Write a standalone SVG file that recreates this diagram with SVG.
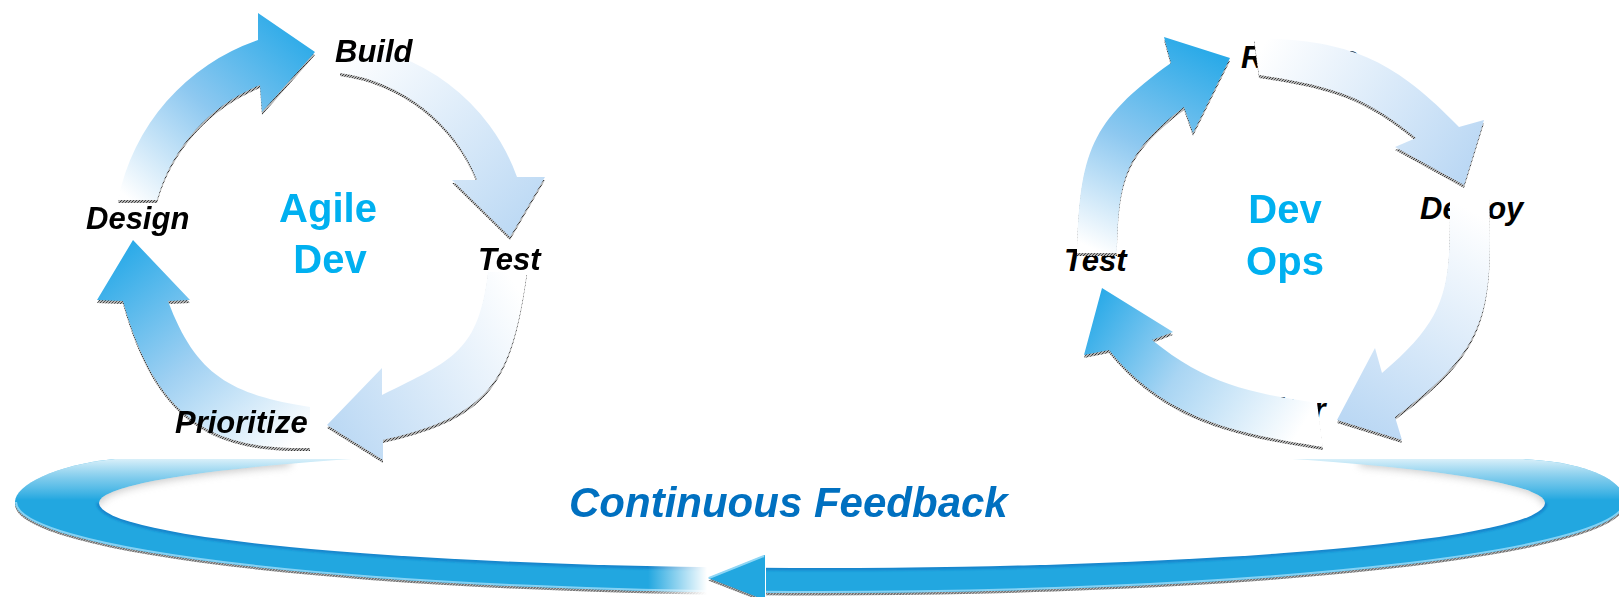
<svg xmlns="http://www.w3.org/2000/svg" xmlns:xlink="http://www.w3.org/1999/xlink" width="1619" height="597" viewBox="0 0 1619 597">
<defs>
<style>
.lbl{font-family:"Liberation Sans",Arial,sans-serif;font-weight:700;font-style:italic;font-size:31px;fill:#000}
.hub{font-family:"Liberation Sans",Arial,sans-serif;font-weight:700;font-size:40px;fill:#00B0F0;text-anchor:middle}
.fb{font-family:"Liberation Sans",Arial,sans-serif;font-weight:700;font-style:italic;font-size:42px;fill:#0070C0}
.shd{fill:url(#speckle)}
</style>
<pattern id="speckle" width="3" height="3" patternUnits="userSpaceOnUse">
<rect width="3" height="3" fill="#b4b4b4"/><rect x="0" y="0" width="1" height="1" fill="#333"/><rect x="2" y="1" width="1" height="1" fill="#555"/><rect x="1" y="2" width="1" height="1" fill="#444"/>
</pattern>
<linearGradient id="gBlueA1" gradientUnits="userSpaceOnUse" x1="290" y1="20" x2="130" y2="200"><stop offset="0" stop-color="#2AAAE8"/><stop offset="0.5" stop-color="#8DC8F0"/><stop offset="1" stop-color="#FFFFFF"/></linearGradient>
<linearGradient id="gPaleA2" gradientUnits="userSpaceOnUse" x1="345" y1="50" x2="520" y2="230"><stop offset="0" stop-color="#FFFFFF"/><stop offset="1" stop-color="#BCD9F4"/></linearGradient>
<linearGradient id="gPaleA3" gradientUnits="userSpaceOnUse" x1="525" y1="300" x2="330" y2="420"><stop offset="0" stop-color="#FFFFFF"/><stop offset="1" stop-color="#BCD9F4"/></linearGradient>
<linearGradient id="gBlueA4" gradientUnits="userSpaceOnUse" x1="133" y1="240" x2="300" y2="440"><stop offset="0" stop-color="#2AAAE8"/><stop offset="0.5" stop-color="#9FD0F2"/><stop offset="1" stop-color="#FFFFFF"/></linearGradient>
<linearGradient id="gBlueB1" gradientUnits="userSpaceOnUse" x1="1195" y1="45" x2="1095" y2="250"><stop offset="0" stop-color="#2AAAE8"/><stop offset="0.5" stop-color="#8DC8F0"/><stop offset="1" stop-color="#FFFFFF"/></linearGradient>
<linearGradient id="gPaleB2" gradientUnits="userSpaceOnUse" x1="1260" y1="50" x2="1460" y2="180"><stop offset="0" stop-color="#FFFFFF"/><stop offset="1" stop-color="#BBD8F4"/></linearGradient>
<linearGradient id="gPaleB3" gradientUnits="userSpaceOnUse" x1="1470" y1="210" x2="1350" y2="420"><stop offset="0" stop-color="#FFFFFF"/><stop offset="1" stop-color="#BBD8F4"/></linearGradient>
<linearGradient id="gBlueB4" gradientUnits="userSpaceOnUse" x1="1095" y1="300" x2="1300" y2="430"><stop offset="0" stop-color="#2AAAE8"/><stop offset="0.45" stop-color="#A9D5F3"/><stop offset="1" stop-color="#FFFFFF"/></linearGradient>
<linearGradient id="gRingFade" gradientUnits="userSpaceOnUse" x1="0" y1="458" x2="0" y2="500"><stop offset="0" stop-color="#FFFFFF" stop-opacity="0.85"/><stop offset="0.5" stop-color="#E8F4FA" stop-opacity="0.45"/><stop offset="1" stop-color="#FFFFFF" stop-opacity="0"/></linearGradient>
<linearGradient id="gGap" gradientUnits="userSpaceOnUse" x1="648" y1="0" x2="707" y2="0"><stop offset="0" stop-color="#FFFFFF" stop-opacity="0"/><stop offset="1" stop-color="#FFFFFF" stop-opacity="1"/></linearGradient>
<filter id="blur5" x="-20%" y="-100%" width="140%" height="300%"><feGaussianBlur stdDeviation="5"/></filter>
<filter id="blur1" x="-5%" y="-50%" width="110%" height="200%"><feGaussianBlur stdDeviation="0.8"/></filter>
<path id="ringOuterShape" d="M15,502 C15,485 55,465 115,459 L1520,459 C1580,461 1625,478 1625,502 A805,91 0 0 1 15,502 Z"/>
<path id="ringInnerShape" d="M99,503 A723,58 0 0 1 1545,503 A723,65 0 0 1 99,503 Z"/>
<clipPath id="clipOuter"><use xlink:href="#ringOuterShape"/></clipPath>
<clipPath id="clipInner"><use xlink:href="#ringInnerShape"/></clipPath>
<path id="pA1" d="M118,200 A213,213 0 0 1 258,40 L258,13 L315,52 L262,112 L260,85 A174,174 0 0 0 157,200 Z"/>
<path id="pA2" d="M340,44 A201,201 0 0 1 517,177 L545,177 L510,237 L452,180 L477,180 A172,172 0 0 0 340,73 Z"/>
<path id="pA3" d="M527,272 C511.6,380.9 490.3,415.6 383,440 L383,460 L327,425 L382,368 L382,395 C453.8,359.6 478.3,351.4 488,272 Z"/>
<path id="pA4" d="M310,448 C215,450 156.6,422 123,301 L97,300 L133,240 L190,300 L168,301 C196.1,375.9 231,394.4 310,407 Z"/>
<path id="pB1" d="M1077,253 C1080,153 1089.6,121.1 1171,63 L1164,37 L1230,58 L1193,133 L1184,107 C1124.5,152.5 1118.5,178 1117,253 Z"/>
<path id="pB2" d="M1254,38 C1349,39.9 1393,58.6 1459,127 L1484,120 L1464,185 L1395,147 L1416,138 C1362,93.5 1328.2,85.8 1259,75 Z"/>
<path id="pB3" d="M1489,196 C1493,311 1488,349.5 1395,417 L1402,440 L1337,420 L1375,348 L1382,373 C1450.7,314.9 1450,286 1450,196 Z"/>
<path id="pB4" d="M1323,447 C1234,433 1166,419.6 1109,350 L1084,355 L1102,288 L1173,332 L1152,340 C1206.5,383.9 1247.8,392.6 1317,403 Z"/>
</defs>
<rect width="1619" height="597" fill="#FFFFFF"/>

<!-- DevOps labels (partly hidden behind the arrows, as in the picture) -->
<g id="node-release"><text class="lbl" x="1241" y="68">Release</text></g>
<g id="node-deploy"><text class="lbl" x="1420" y="219">Deploy</text></g>
<g id="node-monitor"><text class="lbl" x="1212" y="420">Monitor</text></g>
<g id="node-test-devops"><text class="lbl" x="1064" y="271">Test</text></g>

<g id="connectors">
  <g id="feedback-arrow">
    <use xlink:href="#ringOuterShape" transform="translate(0,2.5)" class="shd"/>
    <use xlink:href="#ringOuterShape" fill="#22A7E0"/>
    <path d="M1625,502 A805,91 0 0 1 15,502" fill="none" stroke="#86D2F4" stroke-width="4" clip-path="url(#clipOuter)"/>
    <path d="M1545,503 A723,65 0 0 1 99,503" fill="none" stroke="#1685CC" stroke-width="5" filter="url(#blur1)"/>
    <rect x="0" y="455" width="1619" height="50" fill="url(#gRingFade)" clip-path="url(#clipOuter)"/>
    <use xlink:href="#ringInnerShape" fill="#FFFFFF"/>
    <g clip-path="url(#clipInner)" opacity="0.55">
      <path d="M99,503 A723,58 0 0 1 290,460" fill="none" stroke="#8a8a8a" stroke-width="10" filter="url(#blur5)"/>
      <path d="M1360,460 A723,58 0 0 1 1545,503" fill="none" stroke="#8a8a8a" stroke-width="10" filter="url(#blur5)"/>
    </g>
    <rect x="640" y="553" width="126" height="44" fill="url(#gGap)"/>
    <rect x="707" y="553" width="59" height="44" fill="#FFFFFF"/>
    <path d="M708,578 L765,555 L765,600 Z" transform="translate(0,2.5)" class="shd"/>
    <path d="M708,578 L765,555 L765,600 Z" fill="#22A7E0"/>
    <path d="M709,578 L764,556" fill="none" stroke="#8FD6F5" stroke-width="2"/>
  </g>
  <g id="arrow-design-build"><use xlink:href="#pA1" transform="translate(0,3)" class="shd"/><use xlink:href="#pA1" fill="url(#gBlueA1)"/></g>
  <g id="arrow-build-test"><use xlink:href="#pA2" transform="translate(0,3)" class="shd"/><use xlink:href="#pA2" fill="url(#gPaleA2)"/></g>
  <g id="arrow-test-prioritize"><use xlink:href="#pA3" transform="translate(0,3)" class="shd"/><use xlink:href="#pA3" fill="url(#gPaleA3)"/></g>
  <g id="arrow-prioritize-design"><use xlink:href="#pA4" transform="translate(0,3)" class="shd"/><use xlink:href="#pA4" fill="url(#gBlueA4)"/></g>
  <g id="arrow-test-release"><use xlink:href="#pB1" transform="translate(0,3)" class="shd"/><use xlink:href="#pB1" fill="url(#gBlueB1)"/></g>
  <g id="arrow-release-deploy"><use xlink:href="#pB2" transform="translate(0,3)" class="shd"/><use xlink:href="#pB2" fill="url(#gPaleB2)"/></g>
  <g id="arrow-deploy-monitor"><use xlink:href="#pB3" transform="translate(0,3)" class="shd"/><use xlink:href="#pB3" fill="url(#gPaleB3)"/></g>
  <g id="arrow-monitor-test"><use xlink:href="#pB4" transform="translate(0,3)" class="shd"/><use xlink:href="#pB4" fill="url(#gBlueB4)"/></g>
</g>

<g id="node-build"><text class="lbl" x="335" y="62">Build</text></g>
<g id="node-test-agile"><text class="lbl" x="478" y="270">Test</text></g>
<g id="node-prioritize"><text class="lbl" x="175" y="433">Prioritize</text></g>
<g id="node-design"><text class="lbl" x="86" y="229">Design</text></g>
<g id="node-agile-dev"><text class="hub" x="328" y="222">Agile</text><text class="hub" x="330" y="273">Dev</text></g>
<g id="node-devops"><text class="hub" x="1285" y="223">Dev</text><text class="hub" x="1285" y="275">Ops</text></g>
<g id="node-continuous-feedback"><text class="fb" x="569" y="517">Continuous Feedback</text></g>
</svg>
